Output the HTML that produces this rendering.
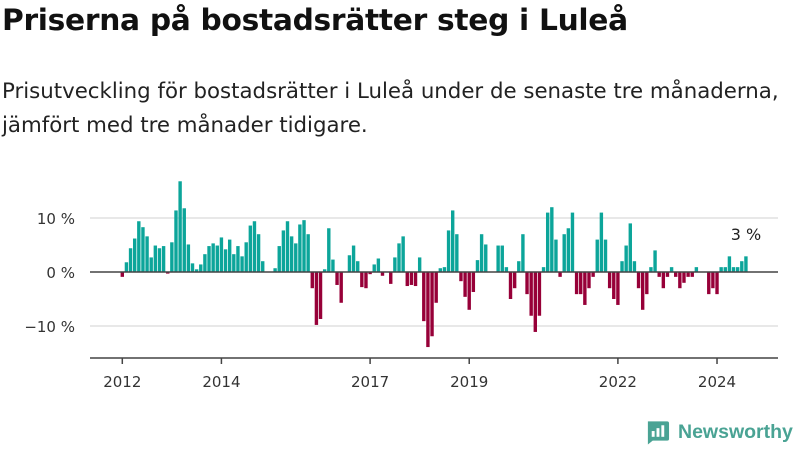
<!DOCTYPE html>
<html><head><meta charset="utf-8">
<style>
body{margin:0;width:800px;height:450px;background:#fff;font-family:"Liberation Sans","DejaVu Sans",sans-serif;overflow:hidden;position:relative;color:#111}
h1{position:absolute;left:2px;top:3px;margin:0;font-size:29.7px;font-weight:bold;font-family:"DejaVu Sans","Liberation Sans",sans-serif;letter-spacing:-0.3px}
p{position:absolute;left:2px;top:75px;margin:0;font-size:21.3px;line-height:34px;font-family:"DejaVu Sans","Liberation Sans",sans-serif;width:798px;color:#222}
svg{position:absolute;left:0;top:0}
</style></head><body>
<h1>Priserna på bostadsrätter steg i Luleå</h1>
<p>Prisutveckling för bostadsrätter i Luleå under de senaste tre månaderna, jämfört med tre månader tidigare.</p>
<svg id="chart" width="800" height="450"></svg>
<script>
const values=[-0.9,1.8,4.4,6.2,9.4,8.3,6.6,2.7,4.9,4.4,4.8,-0.3,5.5,11.4,16.8,11.8,5.1,1.6,0.5,1.4,3.3,4.8,5.3,4.9,6.4,4.2,6.0,3.3,4.8,2.9,5.5,8.6,9.4,7.0,2.0,0,0,0.7,4.8,7.7,9.4,6.6,5.3,8.8,9.6,7.0,-3.0,-9.8,-8.7,0.5,8.1,2.3,-2.4,-5.7,0,3.1,4.9,2.0,-2.8,-3.0,-0.4,1.4,2.5,-0.7,0,-2.2,2.7,5.3,6.6,-2.6,-2.4,-2.6,2.7,-9.1,-13.9,-11.9,-5.7,0.7,0.9,7.7,11.4,7.0,-1.7,-4.6,-7.0,-3.7,2.2,7.0,5.1,0,0,4.9,4.9,0.9,-5.0,-3.0,2.0,7.0,-4.1,-8.1,-11.1,-8.1,0.9,11.0,12.0,6.0,-0.9,7.0,8.1,11.0,-4.1,-4.1,-6.1,-3.0,-0.9,6.0,11.0,6.0,-3.0,-5.0,-6.1,2.0,4.9,9.0,2.0,-3.0,-7.0,-4.1,0.9,4.0,-0.9,-3.0,-0.9,0.9,-0.9,-3.0,-2.0,-0.9,-0.9,0.9,0,0,-4.1,-3.0,-4.1,0.9,0.9,2.9,0.9,0.9,2.0,2.9];
const yTicks=[10,0,-10];
const yTickLabels=["10 %","0 %","−10 %"];
const xTickMonths=[0,24,60,84,120,144];
const xTickLabels=["2012","2014","2017","2019","2022","2024"];
const lastLabel="3 %";
const NS="http://www.w3.org/2000/svg";
const svg=document.getElementById('chart');
const x=i=>122.3+i*4.13;
const y=v=>272-v*5.4;
function mk(t,a){const e=document.createElementNS(NS,t);for(const k in a)e.setAttribute(k,a[k]);svg.appendChild(e);return e;}
yTicks.forEach((t,i)=>{
  if(t!==0){const g=mk('line',{x1:90,x2:778,y1:y(t),y2:y(t),stroke:'#e0e0e0','stroke-width':1.5});
  
  }
  const l=mk('text',{x:75,y:y(t)+6,'text-anchor':'end','font-size':15,fill:'#333','font-family':'DejaVu Sans, Liberation Sans, sans-serif'});
  l.textContent=yTickLabels[i];
  
  
});
values.forEach((v,i)=>{
  if(v===0)return;
  const r=mk('rect',{x:x(i)-1.7,width:3.4,y:Math.min(y(v),y(0)),height:Math.abs(y(v)-y(0)),fill:v>0?'#0ca59a':'#970038'});
  
  
});
const z=mk('line',{x1:90,x2:778,y1:y(0),y2:y(0),stroke:'#444','stroke-width':1.5});


const ax=mk('line',{x1:90,x2:778,y1:358,y2:358,stroke:'#444','stroke-width':1.5});


xTickMonths.forEach((m,i)=>{
  const t=mk('line',{x1:x(m),x2:x(m),y1:358,y2:364,stroke:'#444','stroke-width':1.5});
  
  
  const l=mk('text',{x:x(m),y:387,'text-anchor':'middle','font-size':15,fill:'#333','font-family':'DejaVu Sans, Liberation Sans, sans-serif'});
  l.textContent=xTickLabels[i];
  
  
});
const li=values.length-1;
const ll=mk('text',{x:x(li),y:240,'text-anchor':'middle','font-size':16,fill:'#222','font-family':'DejaVu Sans, Liberation Sans, sans-serif'});
ll.textContent=lastLabel;


</script>
<div style="position:absolute;left:645px;top:419px;display:flex;align-items:center">
<svg width="25" height="26" viewBox="0 0 26 26" style="position:static"><path d="M3 2h20a2 2 0 0 1 2 2v16a2 2 0 0 1-2 2H8l-5 4z" fill="#4aa394"/><rect x="7" y="12" width="3" height="6" fill="#fff"/><rect x="12" y="9" width="3" height="9" fill="#fff"/><rect x="17" y="6" width="3" height="12" fill="#fff"/></svg>
<span style="font-size:19.5px;font-weight:bold;color:#4aa394;margin-left:8px;font-family:'Liberation Sans','DejaVu Sans',sans-serif">Newsworthy</span>
</div>
</body></html>
